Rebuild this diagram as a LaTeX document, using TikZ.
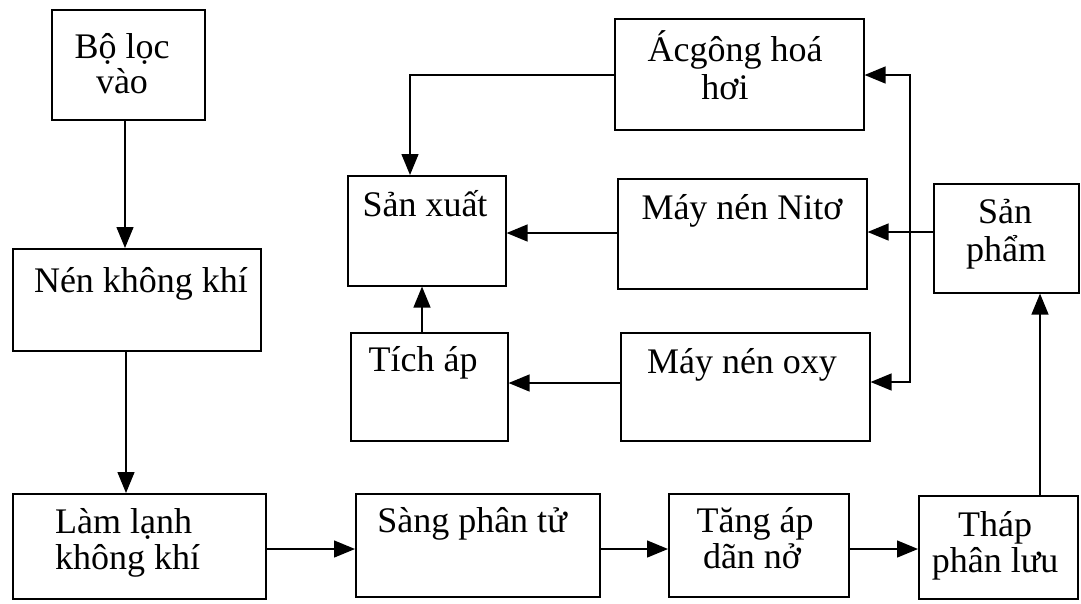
\documentclass[tikz,border=0pt]{standalone}
\usepackage{fontspec}
\setmainfont{Liberation Serif}
\usetikzlibrary{arrows.meta}
\begin{document}
\begin{tikzpicture}[x=1pt,y=-1pt,
  box/.style={draw, line width=1.6pt, inner sep=0pt, anchor=north west},
  txt/.style={anchor=base, inner sep=0pt, font=\fontsize{36}{38}\selectfont},
  txtl/.style={txt, anchor=base west},
  wire/.style={line width=1.4pt, line cap=rect},
  arr/.style={line width=1.4pt, -{Triangle[length=21pt,width=17pt]}}]
\fill[white] (0,0) rectangle (1081,603);
\useasboundingbox (0,0) rectangle (1081,603);

% process boxes
\node[box, minimum width=153pt, minimum height=110pt] (boloc)   at (51,9)   {};
\node[box, minimum width=248pt, minimum height=102pt] (nen)     at (12,248) {};
\node[box, minimum width=253pt, minimum height=105pt] (lamlanh) at (12,493) {};
\node[box, minimum width=244pt, minimum height=103pt] (sang)    at (355,493) {};
\node[box, minimum width=180pt, minimum height=103pt] (tang)    at (668,493) {};
\node[box, minimum width=159pt, minimum height=103pt] (thap)    at (918,495) {};
\node[box, minimum width=145pt, minimum height=109pt] (sanpham) at (933,183) {};
\node[box, minimum width=249pt, minimum height=111pt] (acgong)  at (614,18)  {};
\node[box, minimum width=249pt, minimum height=110pt] (nito)    at (617,178) {};
\node[box, minimum width=249pt, minimum height=108pt] (oxy)     at (620,332) {};
\node[box, minimum width=158pt, minimum height=110pt] (sanxuat) at (347,175) {};
\node[box, minimum width=157pt, minimum height=108pt] (ticap)   at (350,332) {};

% labels
\node[txt] (t-boloc1) at (122,58) {Bộ lọc};
\node[txt] (t-boloc2) at (122,93) {vào};
\node[txt] (t-nen) at (141,292) {Nén không khí};
\node[txtl] (t-lamlanh1) at (55,533) {Làm lạnh};
\node[txtl] (t-lamlanh2) at (55,569) {không khí};
\node[txt] (t-sang) at (472,532) {Sàng phân tử};
\node[txt] (t-tang1) at (755,532) {Tăng áp};
\node[txt] (t-tang2) at (752,568) {dãn nở};
\node[txt] (t-thap1) at (995,536) {Tháp};
\node[txt] (t-thap2) at (995,572) {phân lưu};
\node[txt] (t-sanpham1) at (1005,223) {Sản};
\node[txt] (t-sanpham2) at (1006,261) {phẩm};
\node[txt] (t-acgong1) at (735,61) {Ácgông hoá};
\node[txt] (t-acgong2) at (725,99) {hơi};
\node[txt] (t-nito) at (742,219) {Máy nén Nitơ};
\node[txt] (t-oxy) at (742,373) {Máy nén oxy};
\node[txt] (t-sanxuat) at (425,216) {Sản xuất};
\node[txt] (t-ticap) at (423,371) {Tích áp};

% main air line
\draw[arr] (boloc.south -| 125,0) -- (nen.north -| 125,0);
\draw[arr] (nen.south -| 126,0) -- (lamlanh.north -| 126,0);
\draw[arr] (lamlanh.east |- 0,549) -- (sang.west |- 0,549);
\draw[arr] (sang.east |- 0,549) -- (tang.west |- 0,549);
\draw[arr] (tang.east |- 0,549) -- (thap.west |- 0,549);
\draw[arr] (thap.north -| 1040,0) -- (sanpham.south -| 1040,0);

% product distribution
\coordinate (bustop) at (910,75);
\coordinate (busbot) at (910,382);
\draw[arr] (sanpham.west |- 0,232) -- (nito.east |- 0,232);
\draw[wire] (bustop) -- (busbot);
\draw[arr] (bustop) -- (acgong.east |- bustop);
\draw[arr] (busbot) -- (oxy.east |- busbot);

% to production
\draw[arr] (nito.west |- 0,233) -- (sanxuat.east |- 0,233);
\draw[arr] (oxy.west |- 0,383) -- (ticap.east |- 0,383);
\draw[arr] (ticap.north -| 422,0) -- (sanxuat.south -| 422,0);
\draw[arr] (acgong.west |- 0,75) -| (sanxuat.north -| 410,0);
\end{tikzpicture}
\end{document}
